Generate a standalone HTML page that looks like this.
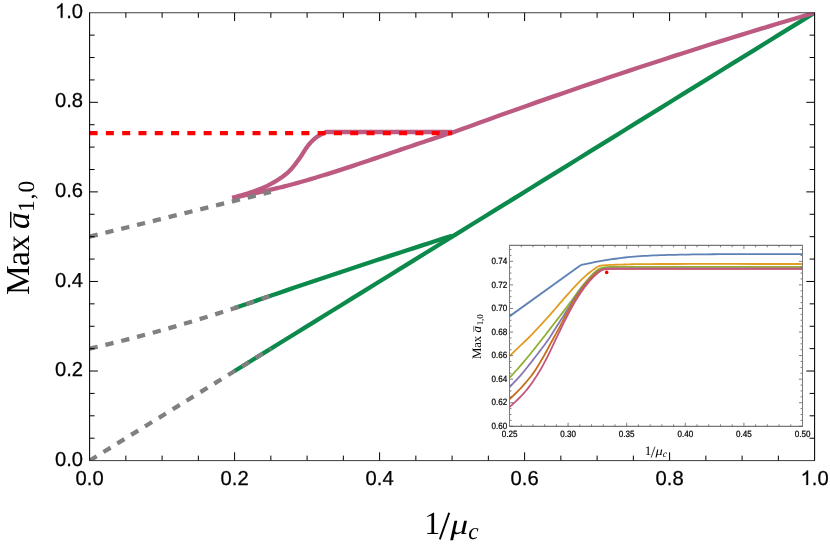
<!DOCTYPE html>
<html><head><meta charset="utf-8"><title>chart</title>
<style>text{text-rendering:geometricPrecision}html,body{margin:0;padding:0;background:#fff}body{width:830px;height:549px;position:relative;overflow:hidden;font-family:"Liberation Sans",sans-serif}</style></head>
<body>
<svg width="830" height="549" viewBox="0 0 830 549" style="position:absolute;left:0;top:0;will-change:transform">
<rect x="0" y="0" width="830" height="549" fill="#fff"/>
<defs><clipPath id="mc"><rect x="89.6" y="12.75" width="725.00" height="447.85"/></clipPath></defs><g clip-path="url(#mc)">
<polyline fill="none" stroke="#0b8a4b" stroke-width="4.3" points="234.60,371.03 246.44,363.72 258.27,356.41 270.11,349.09 281.95,341.78 293.78,334.47 305.62,327.16 317.46,319.85 329.29,312.54 341.13,305.22 352.97,297.91 364.80,290.60 376.64,283.29 388.48,275.98 400.31,268.66 412.15,261.35 423.99,254.04 435.82,246.73 447.66,239.42 459.50,232.11 471.33,224.79 483.17,217.48 495.01,210.17 506.84,202.86 518.68,195.55 530.52,188.23 542.36,180.92 554.19,173.61 566.03,166.30 577.87,158.99 589.70,151.67 601.54,144.36 613.38,137.05 625.21,129.74 637.05,122.43 648.89,115.12 660.72,107.80 672.56,100.49 684.40,93.18 696.23,85.87 708.07,78.56 719.91,71.24 731.74,63.93 743.58,56.62 755.42,49.31 767.25,42.00 779.09,34.69 790.93,27.37 802.76,20.06 814.60,12.75"/>
<polyline fill="none" stroke="#0b8a4b" stroke-width="4.3" points="234.60,308.11 242.10,305.52 249.60,302.93 257.10,300.35 264.60,297.78 272.10,295.22 279.60,292.66 287.10,290.12 294.60,287.57 302.10,285.04 309.60,282.51 317.10,279.99 324.60,277.47 332.10,274.96 339.60,272.46 347.10,269.97 354.60,267.48 362.10,265.00 369.60,262.53 377.10,260.06 384.60,257.60 392.10,255.15 399.60,252.70 407.10,250.26 414.60,247.83 422.10,245.40 429.60,242.98 437.10,240.57 444.60,238.17 452.10,235.77"/>
<polyline fill="none" stroke="#bc5a82" stroke-width="4.3" stroke-linejoin="round" points="232.28,198.07 234.62,197.56 237.68,196.91 241.32,196.13 245.39,195.26 249.75,194.32 254.26,193.35 258.77,192.37 263.13,191.40 267.21,190.49 270.85,189.65 274.10,188.89 277.11,188.17 279.96,187.49 282.69,186.82 285.36,186.16 288.03,185.47 290.76,184.76 293.60,183.99 296.61,183.17 299.85,182.26 303.31,181.27 306.93,180.22 310.68,179.12 314.54,177.96 318.47,176.78 322.45,175.56 326.45,174.33 330.44,173.09 334.39,171.85 338.27,170.62 342.12,169.39 345.95,168.14 349.79,166.88 353.63,165.61 357.46,164.33 361.30,163.04 365.15,161.75 368.99,160.45 372.84,159.15 376.70,157.85 380.57,156.55 384.47,155.22 388.38,153.89 392.29,152.55 396.21,151.21 400.11,149.88 404.00,148.55 407.86,147.23 411.70,145.93 415.49,144.64 419.40,143.32 423.53,141.94 427.78,140.52 432.05,139.09 436.22,137.70 440.20,136.38 443.88,135.15 447.16,134.06 449.93,133.14 452.10,132.42 452.10,132.76 461.39,129.34 470.69,125.94 479.98,122.56 489.28,119.19 498.57,115.84 507.87,112.51 517.16,109.20 526.46,105.91 535.75,102.63 545.05,99.38 554.34,96.14 563.64,92.91 572.93,89.71 582.23,86.53 591.52,83.36 600.82,80.21 610.11,77.08 619.41,73.96 628.70,70.87 638.00,67.79 647.29,64.73 656.59,61.69 665.88,58.67 675.18,55.66 684.47,52.68 693.77,49.71 703.06,46.76 712.36,43.82 721.65,40.91 730.95,38.01 740.24,35.13 749.54,32.27 758.83,29.43 768.13,26.60 777.42,23.80 786.72,21.01 796.01,18.24 805.31,15.48 814.60,12.75"/>
<polyline fill="none" stroke="#bc5a82" stroke-width="4.3" stroke-linejoin="round" points="232.30,197.90 233.39,197.57 234.78,197.17 236.41,196.70 238.25,196.18 240.24,195.60 242.34,194.99 244.51,194.36 246.68,193.70 248.83,193.04 250.89,192.38 252.83,191.73 254.60,191.10 256.24,190.49 257.84,189.88 259.40,189.27 260.91,188.66 262.40,188.04 263.86,187.41 265.30,186.76 266.72,186.10 268.12,185.41 269.52,184.70 270.91,183.97 272.30,183.20 273.69,182.40 275.09,181.58 276.48,180.74 277.86,179.87 279.22,178.99 280.57,178.08 281.89,177.16 283.19,176.21 284.45,175.26 285.68,174.28 286.86,173.30 288.00,172.30 289.09,171.28 290.13,170.23 291.13,169.16 292.10,168.07 293.03,166.96 293.94,165.84 294.82,164.71 295.68,163.58 296.52,162.45 297.35,161.32 298.18,160.20 299.00,159.10 299.81,157.99 300.58,156.86 301.34,155.71 302.07,154.56 302.79,153.41 303.49,152.27 304.19,151.14 304.89,150.04 305.58,148.96 306.28,147.93 306.98,146.94 307.70,146.00 308.42,145.11 309.14,144.26 309.85,143.44 310.57,142.65 311.28,141.89 311.99,141.16 312.71,140.46 313.43,139.79 314.16,139.13 314.90,138.50 315.64,137.89 316.40,137.30 317.20,136.72 318.06,136.16 318.96,135.61 319.89,135.09 320.82,134.58 321.74,134.11 322.63,133.66 323.48,133.25 324.25,132.87 324.95,132.54 325.53,132.25 326.00,132.00 452.30,132.00"/>
<polyline fill="none" stroke="#808080" stroke-width="4.3" stroke-dasharray="8.3 7.98" points="89.60,460.60 99.14,454.71 108.68,448.81 118.22,442.92 127.76,437.03 137.30,431.14 146.84,425.24 156.38,419.35 165.92,413.46 175.46,407.57 184.99,401.67 194.53,395.78 204.07,389.89 213.61,383.99 223.15,378.10 232.69,372.21 242.23,366.32 251.77,360.42 261.31,354.53 270.85,348.64"/>
<polyline fill="none" stroke="#808080" stroke-width="4.3" stroke-dasharray="8.3 7.98" points="89.60,348.64 99.14,346.40 108.68,344.10 118.22,341.74 127.76,339.33 137.30,336.85 146.84,334.31 156.38,331.71 165.92,329.05 175.46,326.33 184.99,323.55 194.53,320.70 204.07,317.80 213.61,314.84 223.15,311.81 232.69,308.73 242.23,305.59 251.77,302.38 261.31,299.12 270.85,295.79"/>
<polyline fill="none" stroke="#808080" stroke-width="4.3" stroke-dasharray="8.3 7.98" points="89.60,236.68 99.14,234.32 108.68,231.96 118.22,229.60 127.76,227.25 137.30,224.89 146.84,222.53 156.38,220.18 165.92,217.82 175.46,215.46 184.99,213.10 194.53,210.75 204.07,208.39 213.61,206.03 223.15,203.68 232.69,201.32 242.23,198.96 251.77,196.60 261.31,194.25 270.85,191.89"/>
<line x1="89.60" y1="133.1" x2="452.10" y2="133.1" stroke="#ff0000" stroke-width="4.4" stroke-dasharray="8 8.29"/>
</g>
<path d="M125.85 460.6v-5.0M125.85 12.75v5.0M89.6 438.21h5.0M814.6 438.21h-5.0M162.10 460.6v-5.0M162.10 12.75v5.0M89.6 415.81h5.0M814.6 415.81h-5.0M198.35 460.6v-5.0M198.35 12.75v5.0M89.6 393.42h5.0M814.6 393.42h-5.0M234.60 460.6v-8.3M234.60 12.75v8.3M89.6 371.03h8.3M814.6 371.03h-8.3M270.85 460.6v-5.0M270.85 12.75v5.0M89.6 348.64h5.0M814.6 348.64h-5.0M307.10 460.6v-5.0M307.10 12.75v5.0M89.6 326.25h5.0M814.6 326.25h-5.0M343.35 460.6v-5.0M343.35 12.75v5.0M89.6 303.85h5.0M814.6 303.85h-5.0M379.60 460.6v-8.3M379.60 12.75v8.3M89.6 281.46h8.3M814.6 281.46h-8.3M415.85 460.6v-5.0M415.85 12.75v5.0M89.6 259.07h5.0M814.6 259.07h-5.0M452.10 460.6v-5.0M452.10 12.75v5.0M89.6 236.68h5.0M814.6 236.68h-5.0M488.35 460.6v-5.0M488.35 12.75v5.0M89.6 214.28h5.0M814.6 214.28h-5.0M524.60 460.6v-8.3M524.60 12.75v8.3M89.6 191.89h8.3M814.6 191.89h-8.3M560.85 460.6v-5.0M560.85 12.75v5.0M89.6 169.50h5.0M814.6 169.50h-5.0M597.10 460.6v-5.0M597.10 12.75v5.0M89.6 147.10h5.0M814.6 147.10h-5.0M633.35 460.6v-5.0M633.35 12.75v5.0M89.6 124.71h5.0M814.6 124.71h-5.0M669.60 460.6v-8.3M669.60 12.75v8.3M89.6 102.32h8.3M814.6 102.32h-8.3M705.85 460.6v-5.0M705.85 12.75v5.0M89.6 79.93h5.0M814.6 79.93h-5.0M742.10 460.6v-5.0M742.10 12.75v5.0M89.6 57.53h5.0M814.6 57.53h-5.0M778.35 460.6v-5.0M778.35 12.75v5.0M89.6 35.14h5.0M814.6 35.14h-5.0" stroke="#000" stroke-width="1" fill="none"/>
<path d="M89.1 12.75H815.1M89.1 460.6H815.1" stroke="#1a1a1a" stroke-width="0.85" fill="none"/>
<path d="M89.6 12.75V460.6M814.6 12.75V460.6" stroke="#000" stroke-width="1.05" fill="none"/>
<text x="75.56" y="485.00" font-family="Liberation Sans, sans-serif" font-size="20.2" fill="#000" stroke="#000" stroke-width="0.25">0.0</text>
<text x="55.01" y="465.70" font-family="Liberation Sans, sans-serif" font-size="20.2" fill="#000" stroke="#000" stroke-width="0.25">0.0</text>
<text x="220.56" y="485.00" font-family="Liberation Sans, sans-serif" font-size="20.2" fill="#000" stroke="#000" stroke-width="0.25">0.2</text>
<text x="55.01" y="376.13" font-family="Liberation Sans, sans-serif" font-size="20.2" fill="#000" stroke="#000" stroke-width="0.25">0.2</text>
<text x="365.56" y="485.00" font-family="Liberation Sans, sans-serif" font-size="20.2" fill="#000" stroke="#000" stroke-width="0.25">0.4</text>
<text x="55.01" y="286.56" font-family="Liberation Sans, sans-serif" font-size="20.2" fill="#000" stroke="#000" stroke-width="0.25">0.4</text>
<text x="510.56" y="485.00" font-family="Liberation Sans, sans-serif" font-size="20.2" fill="#000" stroke="#000" stroke-width="0.25">0.6</text>
<text x="55.01" y="196.99" font-family="Liberation Sans, sans-serif" font-size="20.2" fill="#000" stroke="#000" stroke-width="0.25">0.6</text>
<text x="655.56" y="485.00" font-family="Liberation Sans, sans-serif" font-size="20.2" fill="#000" stroke="#000" stroke-width="0.25">0.8</text>
<text x="55.01" y="107.42" font-family="Liberation Sans, sans-serif" font-size="20.2" fill="#000" stroke="#000" stroke-width="0.25">0.8</text>
<path transform="translate(800.56,485.00) scale(0.009863,-0.009863)" d="M763 0H583V1147Q518 1085 412.5 1023T223 930V1104Q374 1175 487 1276T647 1472H763Z" fill="#000" stroke="#000" stroke-width="25.3"/><text x="811.79" y="485.00" font-family="Liberation Sans, sans-serif" font-size="20.2" fill="#000" stroke="#000" stroke-width="0.25">.0</text>
<path transform="translate(55.01,17.85) scale(0.009863,-0.009863)" d="M763 0H583V1147Q518 1085 412.5 1023T223 930V1104Q374 1175 487 1276T647 1472H763Z" fill="#000" stroke="#000" stroke-width="25.3"/><text x="66.25" y="17.85" font-family="Liberation Sans, sans-serif" font-size="20.2" fill="#000" stroke="#000" stroke-width="0.25">.0</text>
<text x="424.30" y="534" font-family="Liberation Serif, serif" font-size="32.17" fill="#000">1</text><line x1="439.80" y1="539.40" x2="449.20" y2="512.70" stroke="#000" stroke-width="1.90"/><text transform="translate(450.30,534) scale(1.08,0.88)" x="0" y="0" font-family="Liberation Serif, serif" font-size="33" font-style="italic" fill="#000">μ</text><text x="468.30" y="538.80" font-family="Liberation Serif, serif" font-size="23.43" font-style="italic" fill="#000">c</text>
<g transform="translate(29.0,295.1) rotate(-90)"><text x="0" y="0" font-family="Liberation Serif, serif" font-size="33.5" letter-spacing="-0.60" fill="#000">Max</text><text x="66.10" y="0" font-family="Liberation Serif, serif" font-size="33.5" font-style="italic" fill="#000">a</text><text x="83.01" y="4.89" font-family="Liberation Serif, serif" font-size="23.45" letter-spacing="1.00" fill="#000">1,0</text><line x1="67.44" x2="83.35" y1="-18.26" y2="-18.26" stroke="#000" stroke-width="1.41"/></g>
<rect x="509.5" y="245.3" width="293.00" height="181.00" fill="#fff" stroke="none"/>
<g clip-path="url(#ic)">
<defs><clipPath id="ic"><rect x="509.5" y="245.3" width="293.00" height="181.00"/></clipPath></defs>
<polyline fill="none" stroke="#5e81b5" stroke-width="1.8" stroke-linejoin="round" points="509.40,316.40 580.90,265.00"/>
<polyline fill="none" stroke="#5e81b5" stroke-width="1.8" stroke-linejoin="round" points="580.90,265.00 582.33,264.71 584.19,264.31 586.40,263.85 588.89,263.33 591.57,262.78 594.36,262.23 597.20,261.70 600.00,261.20 602.84,260.72 605.84,260.23 608.94,259.73 612.13,259.23 615.37,258.75 618.61,258.30 621.83,257.88 625.00,257.50 628.09,257.17 631.13,256.88 634.16,256.61 637.19,256.38 640.26,256.16 643.40,255.96 646.64,255.78 650.00,255.60 653.44,255.44 656.91,255.30 660.44,255.17 664.06,255.06 667.80,254.96 671.68,254.87 675.74,254.79 680.00,254.70 684.23,254.61 688.30,254.54 692.40,254.46 696.73,254.39 701.46,254.33 706.78,254.28 712.90,254.24 720.00,254.20 728.83,254.18 739.55,254.16 751.42,254.16 763.70,254.17 775.67,254.18 786.60,254.19 795.75,254.20 802.40,254.20"/>
<polyline fill="none" stroke="#e19c24" stroke-width="1.8" stroke-linejoin="round" points="509.40,356.10 510.76,354.81 512.63,353.04 514.86,350.92 517.31,348.60 519.82,346.21 522.26,343.89 524.46,341.77 526.30,340.00 527.73,338.61 528.87,337.50 529.82,336.57 530.68,335.72 531.53,334.85 532.48,333.88 533.60,332.69 535.00,331.20 536.68,329.40 538.56,327.37 540.59,325.16 542.72,322.83 544.91,320.42 547.12,317.98 549.30,315.56 551.40,313.20 553.45,310.87 555.50,308.50 557.55,306.10 559.60,303.70 561.65,301.30 563.70,298.93 565.75,296.59 567.80,294.30 569.87,292.02 571.98,289.72 574.10,287.42 576.21,285.16 578.29,282.97 580.33,280.88 582.31,278.91 584.20,277.10 586.08,275.41 588.01,273.80 589.93,272.28 591.78,270.88 593.49,269.60 595.02,268.49 596.31,267.55 597.30,266.80"/>
<polyline fill="none" stroke="#e19c24" stroke-width="1.8" stroke-linejoin="round" points="597.30,266.80 597.71,266.68 598.15,266.51 598.65,266.32 599.28,266.10 600.07,265.88 601.08,265.66 602.34,265.46 603.90,265.30 605.75,265.16 607.83,265.04 610.14,264.94 612.68,264.84 615.43,264.75 618.41,264.66 621.60,264.58 625.00,264.50 627.98,264.42 630.26,264.34 632.39,264.27 634.92,264.20 638.40,264.14 643.37,264.08 650.39,264.04 660.00,264.00 673.63,263.98 691.39,263.96 711.79,263.96 733.39,263.97 754.71,263.98 774.30,263.99 790.68,264.00 802.40,264.00"/>
<polyline fill="none" stroke="#8fb032" stroke-width="1.8" stroke-linejoin="round" points="509.40,378.00 510.33,376.97 511.57,375.60 513.04,373.98 514.68,372.17 516.41,370.25 518.15,368.30 519.84,366.39 521.40,364.60 522.88,362.86 524.38,361.09 525.88,359.28 527.37,357.48 528.83,355.70 530.25,353.96 531.61,352.29 532.90,350.70 534.10,349.22 535.20,347.85 536.24,346.55 537.24,345.29 538.23,344.03 539.24,342.75 540.29,341.42 541.40,340.00 542.53,338.55 543.64,337.13 544.76,335.69 545.91,334.21 547.12,332.65 548.41,330.97 549.83,329.13 551.40,327.10 553.17,324.82 555.13,322.29 557.23,319.58 559.41,316.77 561.61,313.91 563.78,311.09 565.86,308.36 567.80,305.80 569.62,303.35 571.38,300.92 573.10,298.52 574.76,296.19 576.37,293.93 577.93,291.77 579.44,289.72 580.90,287.80 582.31,286.01 583.68,284.33 584.99,282.75 586.26,281.27 587.46,279.89 588.61,278.60 589.69,277.41 590.70,276.30 591.63,275.30 592.47,274.43 593.24,273.67 593.96,272.99 594.63,272.38 595.26,271.82 595.88,271.30 596.50,270.80 597.08,270.34 597.59,269.93 598.06,269.59 598.51,269.28 598.96,269.01 599.45,268.76 599.98,268.53 600.60,268.30 601.29,268.08 602.02,267.89 602.80,267.71 603.61,267.56 604.45,267.42 605.32,267.30 606.20,267.19 607.10,267.10 608.07,267.03 609.16,266.97 610.31,266.94 611.46,266.93 612.55,266.92 613.55,266.91 614.38,266.91 615.00,266.90"/><polyline fill="none" stroke="#8fb032" stroke-width="1.8" stroke-linejoin="round" points="615.00,266.90 802.40,266.90"/>
<polyline fill="none" stroke="#8778b3" stroke-width="1.8" stroke-linejoin="round" points="509.40,387.50 510.32,386.51 511.53,385.22 512.97,383.69 514.58,381.98 516.29,380.13 518.04,378.21 519.77,376.28 521.40,374.40 522.98,372.52 524.59,370.57 526.21,368.56 527.86,366.51 529.51,364.41 531.17,362.29 532.84,360.15 534.50,358.00 536.20,355.79 537.97,353.49 539.76,351.14 541.55,348.78 543.30,346.45 544.98,344.18 546.56,342.02 548.00,340.00 549.26,338.18 550.37,336.54 551.35,335.01 552.27,333.55 553.18,332.09 554.12,330.56 555.14,328.92 556.30,327.10 557.60,325.08 558.99,322.90 560.45,320.62 561.96,318.27 563.47,315.90 564.97,313.55 566.42,311.27 567.80,309.10 569.11,307.01 570.37,304.95 571.60,302.93 572.80,300.94 573.99,299.00 575.18,297.11 576.38,295.28 577.60,293.50 578.84,291.78 580.11,290.10 581.38,288.47 582.65,286.89 583.91,285.37 585.14,283.91 586.34,282.52 587.50,281.20 588.62,279.95 589.73,278.75 590.81,277.61 591.86,276.54 592.88,275.54 593.87,274.62 594.81,273.77 595.70,273.00 596.53,272.33 597.30,271.76 598.03,271.27 598.71,270.86 599.38,270.50 600.04,270.18 600.71,269.88 601.40,269.60 602.09,269.35 602.75,269.14 603.40,268.98 604.06,268.85 604.73,268.75 605.43,268.66 606.19,268.58 607.00,268.50 607.94,268.43 609.02,268.38 610.18,268.35 611.35,268.33 612.48,268.32 613.51,268.31 614.37,268.31 615.00,268.30"/><polyline fill="none" stroke="#8778b3" stroke-width="1.8" stroke-linejoin="round" points="615.00,268.30 802.40,268.30"/>
<polyline fill="none" stroke="#c56e1a" stroke-width="1.8" stroke-linejoin="round" points="509.40,399.30 510.33,398.40 511.57,397.23 513.04,395.83 514.68,394.27 516.41,392.60 518.15,390.87 519.84,389.16 521.40,387.50 522.87,385.87 524.35,384.21 525.82,382.52 527.29,380.79 528.73,379.03 530.16,377.24 531.55,375.43 532.90,373.60 534.21,371.75 535.47,369.88 536.70,367.98 537.91,366.06 539.10,364.10 540.29,362.11 541.49,360.08 542.70,358.00 543.94,355.83 545.21,353.55 546.49,351.20 547.77,348.83 549.02,346.48 550.24,344.20 551.40,342.02 552.50,340.00 553.51,338.16 554.44,336.48 555.31,334.90 556.15,333.39 556.98,331.90 557.81,330.39 558.68,328.80 559.60,327.10 560.57,325.28 561.57,323.37 562.59,321.41 563.63,319.42 564.68,317.42 565.72,315.43 566.77,313.48 567.80,311.60 568.82,309.76 569.85,307.94 570.88,306.13 571.90,304.35 572.92,302.60 573.95,300.89 574.97,299.22 576.00,297.60 577.02,296.03 578.05,294.51 579.08,293.03 580.10,291.59 581.12,290.18 582.15,288.80 583.18,287.44 584.20,286.10 585.23,284.77 586.25,283.44 587.28,282.14 588.30,280.86 589.33,279.63 590.35,278.45 591.38,277.34 592.40,276.30 593.44,275.33 594.49,274.40 595.55,273.53 596.61,272.72 597.66,271.97 598.68,271.30 599.66,270.71 600.60,270.20 601.48,269.80 602.29,269.51 603.06,269.31 603.81,269.18 604.56,269.10 605.33,269.04 606.14,268.98 607.00,268.90 607.98,268.82 609.07,268.77 610.23,268.74 611.40,268.72 612.52,268.71 613.52,268.71 614.37,268.71 615.00,268.70"/><polyline fill="none" stroke="#c56e1a" stroke-width="1.8" stroke-linejoin="round" points="615.00,268.70 802.40,268.70"/>
<polyline fill="none" stroke="#c2577f" stroke-width="1.8" stroke-linejoin="round" points="509.40,407.20 510.28,406.38 511.46,405.30 512.87,404.01 514.42,402.57 516.05,401.05 517.68,399.51 519.22,398.00 520.60,396.60 521.84,395.30 523.03,394.03 524.17,392.78 525.29,391.51 526.39,390.22 527.50,388.87 528.63,387.43 529.80,385.90 531.01,384.25 532.24,382.50 533.49,380.68 534.75,378.80 536.00,376.88 537.23,374.95 538.44,373.01 539.60,371.10 540.72,369.20 541.82,367.28 542.90,365.34 543.95,363.40 544.98,361.45 546.00,359.50 547.01,357.55 548.00,355.60 548.98,353.63 549.96,351.62 550.92,349.60 551.86,347.58 552.79,345.59 553.69,343.65 554.56,341.78 555.40,340.00 556.20,338.34 556.94,336.77 557.66,335.29 558.35,333.85 559.04,332.43 559.73,331.00 560.45,329.53 561.20,328.00 561.98,326.42 562.76,324.82 563.55,323.20 564.35,321.57 565.17,319.91 566.02,318.23 566.89,316.53 567.80,314.80 568.75,313.02 569.74,311.17 570.76,309.29 571.80,307.39 572.85,305.50 573.91,303.64 574.96,301.83 576.00,300.10 577.02,298.43 578.05,296.80 579.08,295.20 580.10,293.64 581.12,292.12 582.15,290.64 583.18,289.20 584.20,287.80 585.23,286.44 586.25,285.11 587.28,283.82 588.30,282.57 589.33,281.36 590.35,280.19 591.38,279.07 592.40,278.00 593.44,276.96 594.52,275.93 595.60,274.94 596.67,274.00 597.73,273.12 598.75,272.32 599.71,271.61 600.60,271.00 601.38,270.52 602.06,270.15 602.67,269.88 603.25,269.68 603.83,269.54 604.46,269.42 605.17,269.32 606.00,269.20 607.01,269.09 608.21,269.01 609.51,268.96 610.84,268.94 612.13,268.92 613.30,268.92 614.28,268.91 615.00,268.90"/><polyline fill="none" stroke="#c2577f" stroke-width="1.8" stroke-linejoin="round" points="615.00,268.90 802.40,268.85"/>
</g>
<circle cx="606.7" cy="272.4" r="1.8" fill="#f00"/>
<path d="M509.50 426.3v-3.6M509.50 245.3v3.6M521.22 426.3v-2.0M521.22 245.3v2.0M532.94 426.3v-2.0M532.94 245.3v2.0M544.66 426.3v-2.0M544.66 245.3v2.0M556.38 426.3v-2.0M556.38 245.3v2.0M568.10 426.3v-3.6M568.10 245.3v3.6M579.82 426.3v-2.0M579.82 245.3v2.0M591.54 426.3v-2.0M591.54 245.3v2.0M603.26 426.3v-2.0M603.26 245.3v2.0M614.98 426.3v-2.0M614.98 245.3v2.0M626.70 426.3v-3.6M626.70 245.3v3.6M638.42 426.3v-2.0M638.42 245.3v2.0M650.14 426.3v-2.0M650.14 245.3v2.0M661.86 426.3v-2.0M661.86 245.3v2.0M673.58 426.3v-2.0M673.58 245.3v2.0M685.30 426.3v-3.6M685.30 245.3v3.6M697.02 426.3v-2.0M697.02 245.3v2.0M708.74 426.3v-2.0M708.74 245.3v2.0M720.46 426.3v-2.0M720.46 245.3v2.0M732.18 426.3v-2.0M732.18 245.3v2.0M743.90 426.3v-3.6M743.90 245.3v3.6M755.62 426.3v-2.0M755.62 245.3v2.0M767.34 426.3v-2.0M767.34 245.3v2.0M779.06 426.3v-2.0M779.06 245.3v2.0M790.78 426.3v-2.0M790.78 245.3v2.0M802.50 426.3v-3.6M802.50 245.3v3.6M509.5 426.30h3.6M802.5 426.30h-3.6M509.5 420.41h2.0M802.5 420.41h-2.0M509.5 414.51h2.0M802.5 414.51h-2.0M509.5 408.62h2.0M802.5 408.62h-2.0M509.5 402.73h3.6M802.5 402.73h-3.6M509.5 396.84h2.0M802.5 396.84h-2.0M509.5 390.94h2.0M802.5 390.94h-2.0M509.5 385.05h2.0M802.5 385.05h-2.0M509.5 379.16h3.6M802.5 379.16h-3.6M509.5 373.27h2.0M802.5 373.27h-2.0M509.5 367.37h2.0M802.5 367.37h-2.0M509.5 361.48h2.0M802.5 361.48h-2.0M509.5 355.59h3.6M802.5 355.59h-3.6M509.5 349.70h2.0M802.5 349.70h-2.0M509.5 343.81h2.0M802.5 343.81h-2.0M509.5 337.91h2.0M802.5 337.91h-2.0M509.5 332.02h3.6M802.5 332.02h-3.6M509.5 326.13h2.0M802.5 326.13h-2.0M509.5 320.24h2.0M802.5 320.24h-2.0M509.5 314.34h2.0M802.5 314.34h-2.0M509.5 308.45h3.6M802.5 308.45h-3.6M509.5 302.56h2.0M802.5 302.56h-2.0M509.5 296.67h2.0M802.5 296.67h-2.0M509.5 290.77h2.0M802.5 290.77h-2.0M509.5 284.88h3.6M802.5 284.88h-3.6M509.5 278.99h2.0M802.5 278.99h-2.0M509.5 273.10h2.0M802.5 273.10h-2.0M509.5 267.20h2.0M802.5 267.20h-2.0M509.5 261.31h3.6M802.5 261.31h-3.6M509.5 255.42h2.0M802.5 255.42h-2.0M509.5 249.52h2.0M802.5 249.52h-2.0" stroke="#606060" stroke-width="0.8" fill="none"/>
<path d="M509.1 245.3H802.9M509.1 426.3H802.9" stroke="#555" stroke-width="1" fill="none"/>
<path d="M509.5 245.3V426.3M802.5 245.3V426.3" stroke="#7a7a7a" stroke-width="1" fill="none"/>
<text transform="translate(509.50,436.7) scale(1,1.13)" font-family="Liberation Sans, sans-serif" font-size="8.1" fill="#000" stroke="#000" stroke-width="0.2" text-anchor="middle">0.25</text>
<text transform="translate(568.10,436.7) scale(1,1.13)" font-family="Liberation Sans, sans-serif" font-size="8.1" fill="#000" stroke="#000" stroke-width="0.2" text-anchor="middle">0.30</text>
<text transform="translate(626.70,436.7) scale(1,1.13)" font-family="Liberation Sans, sans-serif" font-size="8.1" fill="#000" stroke="#000" stroke-width="0.2" text-anchor="middle">0.35</text>
<text transform="translate(685.30,436.7) scale(1,1.13)" font-family="Liberation Sans, sans-serif" font-size="8.1" fill="#000" stroke="#000" stroke-width="0.2" text-anchor="middle">0.40</text>
<text transform="translate(743.90,436.7) scale(1,1.13)" font-family="Liberation Sans, sans-serif" font-size="8.1" fill="#000" stroke="#000" stroke-width="0.2" text-anchor="middle">0.45</text>
<text transform="translate(802.50,436.7) scale(1,1.13)" font-family="Liberation Sans, sans-serif" font-size="8.1" fill="#000" stroke="#000" stroke-width="0.2" text-anchor="middle">0.50</text>
<text transform="translate(507.2,429.00) scale(1,1.13)" font-family="Liberation Sans, sans-serif" font-size="8.1" fill="#000" stroke="#000" stroke-width="0.2" text-anchor="end">0.60</text>
<text transform="translate(507.2,405.43) scale(1,1.13)" font-family="Liberation Sans, sans-serif" font-size="8.1" fill="#000" stroke="#000" stroke-width="0.2" text-anchor="end">0.62</text>
<text transform="translate(507.2,381.86) scale(1,1.13)" font-family="Liberation Sans, sans-serif" font-size="8.1" fill="#000" stroke="#000" stroke-width="0.2" text-anchor="end">0.64</text>
<text transform="translate(507.2,358.29) scale(1,1.13)" font-family="Liberation Sans, sans-serif" font-size="8.1" fill="#000" stroke="#000" stroke-width="0.2" text-anchor="end">0.66</text>
<text transform="translate(507.2,334.72) scale(1,1.13)" font-family="Liberation Sans, sans-serif" font-size="8.1" fill="#000" stroke="#000" stroke-width="0.2" text-anchor="end">0.68</text>
<text transform="translate(507.2,311.15) scale(1,1.13)" font-family="Liberation Sans, sans-serif" font-size="8.1" fill="#000" stroke="#000" stroke-width="0.2" text-anchor="end">0.70</text>
<text transform="translate(507.2,287.58) scale(1,1.13)" font-family="Liberation Sans, sans-serif" font-size="8.1" fill="#000" stroke="#000" stroke-width="0.2" text-anchor="end">0.72</text>
<text transform="translate(507.2,264.01) scale(1,1.13)" font-family="Liberation Sans, sans-serif" font-size="8.1" fill="#000" stroke="#000" stroke-width="0.2" text-anchor="end">0.74</text>
<text x="644.83" y="455.4" font-family="Liberation Serif, serif" font-size="13.06" fill="#000">1</text><line x1="651.12" y1="457.59" x2="654.94" y2="446.75" stroke="#000" stroke-width="0.77"/><text transform="translate(655.38,455.4) scale(1.08,0.88)" x="0" y="0" font-family="Liberation Serif, serif" font-size="13.4" font-style="italic" fill="#000">μ</text><text x="662.69" y="457.35" font-family="Liberation Serif, serif" font-size="9.51" font-style="italic" fill="#000">c</text>
<g transform="translate(480.9,358.9) rotate(-90)"><text x="0" y="0" font-family="Liberation Serif, serif" font-size="12.8" letter-spacing="-0.26" fill="#000">Max</text><text x="26.50" y="0" font-family="Liberation Serif, serif" font-size="12.8" font-style="italic" fill="#000">a</text><text x="33.54" y="2.18" font-family="Liberation Serif, serif" font-size="8.96" letter-spacing="0.00" fill="#000">1,0</text><line x1="27.01" x2="33.09" y1="-7.17" y2="-7.17" stroke="#000" stroke-width="0.54"/></g>
</svg>
</body></html>
